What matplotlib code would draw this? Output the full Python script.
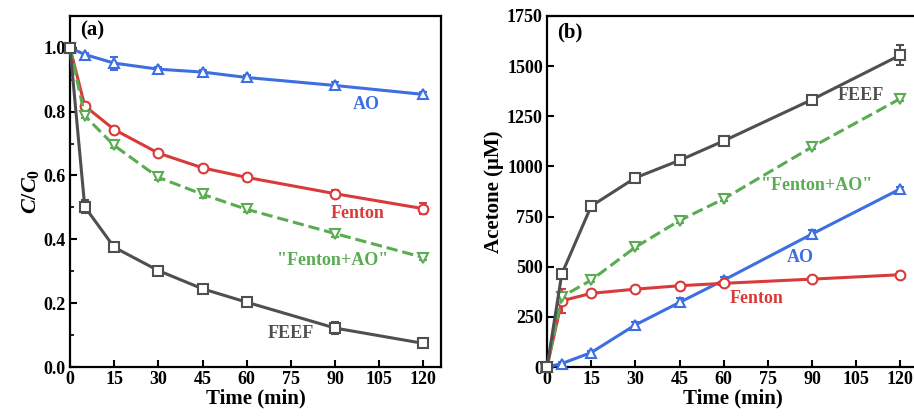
import matplotlib
matplotlib.use("Agg")
import matplotlib.pyplot as plt
from matplotlib.ticker import MultipleLocator

plt.rcParams["font.family"] = ["Liberation Serif", "DejaVu Serif"]
plt.rcParams["font.weight"] = "bold"
plt.rcParams["mathtext.fontset"] = "custom"
plt.rcParams["mathtext.it"] = "Liberation Serif:italic:bold"
plt.rcParams["mathtext.rm"] = "Liberation Serif:bold"

TIME = [0, 5, 15, 30, 45, 60, 90, 120]

# panel (a): C/C0
A_AO = [1.0, 0.979, 0.952, 0.933, 0.924, 0.907, 0.882, 0.854]
A_FENTON = [1.0, 0.818, 0.744, 0.670, 0.624, 0.594, 0.543, 0.496]
A_FENTON_AO = [1.0, 0.787, 0.694, 0.594, 0.541, 0.494, 0.418, 0.343]
A_FEEF = [1.0, 0.502, 0.375, 0.302, 0.245, 0.203, 0.122, 0.074]
A_AO_ERR = [0, 0.005, 0.02, 0.008, 0.008, 0.008, 0.01, 0.008]
A_FENTON_ERR = [0, 0.008, 0.008, 0.008, 0.01, 0.01, 0.01, 0.018]
A_FENTON_AO_ERR = [0, 0.008, 0.008, 0.008, 0.01, 0.008, 0.01, 0.008]
A_FEEF_ERR = [0, 0.02, 0.008, 0.008, 0.01, 0.008, 0.018, 0.008]

# panel (b): acetone (uM)
B_AO = [0, 17, 72, 210, 322, 433, 663, 888]
B_FENTON = [0, 330, 367, 388, 405, 417, 438, 460]
B_FENTON_AO = [0, 350, 433, 597, 730, 838, 1097, 1338]
B_FEEF = [0, 463, 802, 943, 1030, 1127, 1333, 1555]
B_AO_ERR = [0, 8, 10, 15, 20, 15, 20, 10]
B_FENTON_ERR = [0, 60, 15, 10, 10, 15, 10, 15]
B_FENTON_AO_ERR = [0, 10, 10, 10, 10, 10, 10, 10]
B_FEEF_ERR = [0, 10, 10, 10, 10, 10, 15, 50]

BLUE = "#3d6fe0"
RED = "#d93a3a"
GREEN = "#5aac52"
GRAY = "#4f4f4f"

STYLES = [
    ("AO", BLUE, "^", "-"),
    ("Fenton", RED, "o", "-"),
    ("Fenton+AO", GREEN, "v", "--"),
    ("FEEF", GRAY, "s", "-"),
]


def style_axes(ax, ymax, ymajor, yminor, yfmt):
    ax.set_xlim(0, 126)
    ax.set_ylim(0, ymax)
    ax.xaxis.set_major_locator(MultipleLocator(15))
    ax.yaxis.set_major_locator(MultipleLocator(ymajor))
    if yminor:
        ax.yaxis.set_minor_locator(MultipleLocator(yminor))
    ax.yaxis.set_major_formatter(yfmt)
    ax.tick_params(direction="in", length=5, width=1.5, labelsize=13, pad=3)
    ax.tick_params(which="minor", direction="in", length=3, width=1.2)
    for s in ax.spines.values():
        s.set_linewidth(1.6)
    ax.set_xlabel("Time (min)", fontsize=15, fontweight="bold", labelpad=0)


def draw(ax, series, errs):
    for (name, color, marker, ls), y, e in zip(STYLES, series, errs):
        ax.errorbar(TIME, y, yerr=e, color=color, marker=marker, ls=ls,
                    lw=2.2, ms=7, mfc="white", mec=color, mew=1.5,
                    capsize=3, elinewidth=1.5, clip_on=False, zorder=3)


fig = plt.figure(figsize=(9.14, 4.18), dpi=100)
ax1 = fig.add_axes([0.0766, 0.122, 0.406, 0.840])
ax2 = fig.add_axes([0.5985, 0.122, 0.406, 0.840])

draw(ax1, [A_AO, A_FENTON, A_FENTON_AO, A_FEEF],
     [A_AO_ERR, A_FENTON_ERR, A_FENTON_AO_ERR, A_FEEF_ERR])
style_axes(ax1, 1.1, 0.2, 0.1, "{x:.1f}")
ax1.set_ylabel(r"$C/C_0$", fontsize=16, labelpad=2)
ax1.text(7.4, 1.054, "(a)", fontsize=15, fontweight="bold", ha="center", va="center")
ax1.text(100.7, 0.823, "AO", color=BLUE, fontsize=13, fontweight="bold", ha="center", va="center")
ax1.text(97.6, 0.48, "Fenton", color=RED, fontsize=13, fontweight="bold", ha="center", va="center")
ax1.text(89, 0.335, '"Fenton+AO"', color=GREEN, fontsize=13, fontweight="bold", ha="center", va="center")
ax1.text(75, 0.104, "FEEF", color=GRAY, fontsize=13, fontweight="bold", ha="center", va="center")

draw(ax2, [B_AO, B_FENTON, B_FENTON_AO, B_FEEF],
     [B_AO_ERR, B_FENTON_ERR, B_FENTON_AO_ERR, B_FEEF_ERR])
style_axes(ax2, 1750, 250, None, "{x:.0f}")
ax2.set_ylabel("Acetone (μM)", fontsize=15, fontweight="bold", labelpad=2)
ax2.text(7.8, 1665, "(b)", fontsize=15, fontweight="bold", ha="center", va="center")
ax2.text(106.5, 1355, "FEEF", color=GRAY, fontsize=13, fontweight="bold", ha="center", va="center")
ax2.text(91.6, 905, '"Fenton+AO"', color=GREEN, fontsize=13, fontweight="bold", ha="center", va="center")
ax2.text(86, 545, "AO", color=BLUE, fontsize=13, fontweight="bold", ha="center", va="center")
ax2.text(71.3, 340, "Fenton", color=RED, fontsize=13, fontweight="bold", ha="center", va="center")

fig.savefig("out.png", dpi=100)
